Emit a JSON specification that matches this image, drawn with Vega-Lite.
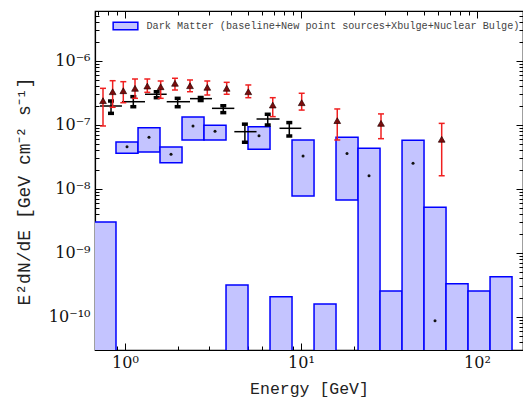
{
  "$schema": "https://vega.github.io/schema/vega-lite/v6.json",
  "width": 428,
  "height": 339,
  "autosize": {"type": "none"},
  "padding": {"left": 95, "top": 11, "right": 0, "bottom": 51},
  "background": "white",
  "config": {
    "view": {"stroke": "black", "strokeWidth": 1.2},
    "axis": {
      "grid": false,
      "domainColor": "black",
      "domainWidth": 1.2,
      "tickColor": "black",
      "tickWidth": 1,
      "labelFont": "DejaVu Serif",
      "labelFontSize": 16,
      "labelColor": "#111",
      "labelOverlap": false,
      "labelFlush": false,
      "titleFont": "Liberation Mono",
      "titleFontWeight": "normal",
      "titleColor": "#222"
    }
  },
  "datasets": {
    "dm": [
      {"lo": 0.667, "hi": 0.889, "ylo": 1e-12, "yhi": 3.05e-9, "ec": 0.770, "dot": null},
      {"lo": 0.889, "hi": 1.186, "ylo": 3.61e-8, "yhi": 5.42e-8, "ec": 1.027, "dot": 4.58e-8},
      {"lo": 1.186, "hi": 1.581, "ylo": 3.79e-8, "yhi": 9.08e-8, "ec": 1.369, "dot": 6.43e-8},
      {"lo": 1.581, "hi": 2.109, "ylo": 2.58e-8, "yhi": 4.53e-8, "ec": 1.826, "dot": 3.48e-8},
      {"lo": 2.109, "hi": 2.812, "ylo": 5.83e-8, "yhi": 1.333e-7, "ec": 2.435, "dot": 9.64e-8},
      {"lo": 2.812, "hi": 3.750, "ylo": 5.83e-8, "yhi": 9.89e-8, "ec": 3.247, "dot": 7.97e-8},
      {"lo": 3.750, "hi": 5.000, "ylo": 1e-12, "yhi": 3.16e-10, "ec": 4.330, "dot": null},
      {"lo": 5.000, "hi": 6.668, "ylo": 4.17e-8, "yhi": 9.40e-8, "ec": 5.774, "dot": 6.81e-8},
      {"lo": 6.668, "hi": 8.892, "ylo": 1e-12, "yhi": 2.07e-10, "ec": 7.700, "dot": null},
      {"lo": 8.892, "hi": 11.86, "ylo": 7.78e-9, "yhi": 5.83e-8, "ec": 10.27, "dot": 3.28e-8},
      {"lo": 11.86, "hi": 15.81, "ylo": 1e-12, "yhi": 1.60e-10, "ec": 13.69, "dot": null},
      {"lo": 15.81, "hi": 21.09, "ylo": 6.73e-9, "yhi": 6.43e-8, "ec": 18.26, "dot": 3.59e-8},
      {"lo": 21.09, "hi": 28.12, "ylo": 1e-12, "yhi": 4.33e-8, "ec": 24.35, "dot": 1.61e-8},
      {"lo": 28.12, "hi": 37.50, "ylo": 1e-12, "yhi": 2.55e-10, "ec": 32.47, "dot": null},
      {"lo": 37.50, "hi": 50.00, "ylo": 1e-12, "yhi": 5.77e-8, "ec": 43.30, "dot": 2.52e-8},
      {"lo": 50.00, "hi": 66.68, "ylo": 1e-12, "yhi": 5.18e-9, "ec": 57.74, "dot": 8.75e-11},
      {"lo": 66.68, "hi": 88.92, "ylo": 1e-12, "yhi": 3.31e-10, "ec": 77.00, "dot": null},
      {"lo": 88.92, "hi": 118.6, "ylo": 1e-12, "yhi": 2.55e-10, "ec": 102.7, "dot": null},
      {"lo": 118.6, "hi": 158.1, "ylo": 1e-12, "yhi": 4.26e-10, "ec": 136.9, "dot": null}
    ],
    "blk": [
      {"e": 0.833, "elo": 0.721, "ehi": 0.961, "f": 1.98e-7, "flo": 1.52e-7, "fhi": 2.37e-7},
      {"e": 1.115, "elo": 0.961, "ehi": 1.299, "f": 2.31e-7, "flo": 1.93e-7, "fhi": 2.77e-7},
      {"e": 1.514, "elo": 1.299, "ehi": 1.726, "f": 3.02e-7, "flo": 2.67e-7, "fhi": 3.31e-7},
      {"e": 1.992, "elo": 1.726, "ehi": 2.341, "f": 2.31e-7, "flo": 1.93e-7, "fhi": 2.61e-7},
      {"e": 2.692, "elo": 2.341, "ehi": 3.12, "f": 2.58e-7, "flo": 2.41e-7, "fhi": 2.69e-7},
      {"e": 3.618, "elo": 3.12, "ehi": 4.18, "f": 1.82e-7, "flo": 1.56e-7, "fhi": 2.00e-7},
      {"e": 4.80, "elo": 4.18, "ehi": 5.59, "f": 7.86e-8, "flo": 5.37e-8, "fhi": 1.03e-7},
      {"e": 6.47, "elo": 5.59, "ehi": 7.55, "f": 1.24e-7, "flo": 1.0e-7, "fhi": 1.47e-7},
      {"e": 8.58, "elo": 7.55, "ehi": 10.04, "f": 8.88e-8, "flo": 6.73e-8, "fhi": 1.09e-7}
    ],
    "red": [
      {"e": 0.750, "f": 2.40e-7, "flo": 9.65e-8, "fhi": 3.74e-7},
      {"e": 0.851, "f": 3.31e-7, "flo": 1.89e-7, "fhi": 4.92e-7},
      {"e": 0.978, "f": 3.43e-7, "flo": 2.23e-7, "fhi": 4.75e-7},
      {"e": 1.140, "f": 3.74e-7, "flo": 2.61e-7, "fhi": 5.23e-7},
      {"e": 1.339, "f": 4.06e-7, "flo": 3.24e-7, "fhi": 5.23e-7},
      {"e": 1.595, "f": 3.96e-7, "flo": 2.61e-7, "fhi": 4.87e-7},
      {"e": 1.923, "f": 4.48e-7, "flo": 3.52e-7, "fhi": 5.37e-7},
      {"e": 2.341, "f": 4.11e-7, "flo": 3.31e-7, "fhi": 5.05e-7},
      {"e": 2.935, "f": 3.88e-7, "flo": 2.94e-7, "fhi": 4.87e-7},
      {"e": 3.783, "f": 3.74e-7, "flo": 3.02e-7, "fhi": 4.64e-7},
      {"e": 5.02, "f": 3.31e-7, "flo": 2.67e-7, "fhi": 4.22e-7},
      {"e": 6.91, "f": 2.05e-7, "flo": 1.35e-7, "fhi": 2.67e-7},
      {"e": 10.09, "f": 2.23e-7, "flo": 1.71e-7, "fhi": 3.13e-7},
      {"e": 16.07, "f": 1.17e-7, "flo": 5.83e-8, "fhi": 1.78e-7},
      {"e": 28.48, "f": 1.06e-7, "flo": 6.11e-8, "fhi": 1.49e-7},
      {"e": 63.0, "f": 5.98e-8, "flo": 1.61e-8, "fhi": 1.06e-7}
    ]
  },
  "layer": [
    {
      "data": {"name": "dm"},
      "mark": {"type": "rect", "clip": true, "stroke": "#0000ff", "strokeWidth": 1.5},
      "encoding": {
        "x": {"field": "lo", "type": "quantitative", "scale": {"type": "log", "domain": [0.6755, 182.5]}, "axis": null},
        "x2": {"field": "hi"},
        "y": {"field": "ylo", "type": "quantitative", "scale": {"type": "log", "domain": [3.05e-11, 6.04e-6]}, "axis": null},
        "y2": {"field": "yhi"},
        "fill": {
          "datum": "Dark Matter (baseline+New point sources+Xbulge+Nuclear Bulge)",
          "scale": {"range": ["#c4c4ff"]},
          "legend": {
            "title": null,
            "orient": "none",
            "legendX": 17,
            "legendY": 1.5,
            "padding": 0,
            "symbolType": "M-1,-0.31H1V0.31H-1Z",
            "symbolSize": 610,
            "symbolStrokeColor": "#0000ff",
            "symbolStrokeWidth": 1.5,
            "labelFont": "Liberation Mono",
            "labelFontSize": 10.2,
            "labelColor": "#444",
            "labelOffset": 7.5,
            "labelLimit": 500
          }
        }
      }
    },
    {
      "data": {"name": "dm"},
      "mark": {"type": "point", "filled": true, "color": "#111", "size": 9, "opacity": 1},
      "encoding": {
        "x": {"field": "ec", "type": "quantitative", "scale": {"type": "log", "domain": [0.6755, 182.5]}, "axis": null},
        "y": {"field": "dot", "type": "quantitative", "scale": {"type": "log", "domain": [3.05e-11, 6.04e-6]}, "axis": null}
      }
    },
    {
      "data": {"name": "blk"},
      "mark": {"type": "rule", "color": "black", "strokeWidth": 1.5},
      "encoding": {
        "x": {"field": "elo", "type": "quantitative", "scale": {"type": "log", "domain": [0.6755, 182.5]}, "axis": null},
        "x2": {"field": "ehi"},
        "y": {"field": "f", "type": "quantitative", "scale": {"type": "log", "domain": [3.05e-11, 6.04e-6]}, "axis": null}
      }
    },
    {
      "data": {"name": "blk"},
      "mark": {"type": "rule", "color": "black", "strokeWidth": 1.5},
      "encoding": {
        "x": {"field": "e", "type": "quantitative", "scale": {"type": "log", "domain": [0.6755, 182.5]}, "axis": null},
        "y": {"field": "flo", "type": "quantitative", "scale": {"type": "log", "domain": [3.05e-11, 6.04e-6]}, "axis": null},
        "y2": {"field": "fhi"}
      }
    },
    {
      "data": {"name": "blk"},
      "mark": {"type": "tick", "orient": "horizontal", "color": "black", "size": 6, "thickness": 3.5, "opacity": 1},
      "encoding": {
        "x": {"field": "e", "type": "quantitative", "scale": {"type": "log", "domain": [0.6755, 182.5]}, "axis": null},
        "y": {"field": "flo", "type": "quantitative", "scale": {"type": "log", "domain": [3.05e-11, 6.04e-6]}, "axis": null}
      }
    },
    {
      "data": {"name": "blk"},
      "mark": {"type": "tick", "orient": "horizontal", "color": "black", "size": 6, "thickness": 3.5, "opacity": 1},
      "encoding": {
        "x": {"field": "e", "type": "quantitative", "scale": {"type": "log", "domain": [0.6755, 182.5]}, "axis": null},
        "y": {"field": "fhi", "type": "quantitative", "scale": {"type": "log", "domain": [3.05e-11, 6.04e-6]}, "axis": null}
      }
    },
    {
      "data": {"name": "red"},
      "mark": {"type": "rule", "color": "#f02020", "strokeWidth": 1.5},
      "encoding": {
        "x": {"field": "e", "type": "quantitative", "scale": {"type": "log", "domain": [0.6755, 182.5]}, "axis": null},
        "y": {"field": "flo", "type": "quantitative", "scale": {"type": "log", "domain": [3.05e-11, 6.04e-6]}, "axis": null},
        "y2": {"field": "fhi"}
      }
    },
    {
      "data": {"name": "red"},
      "mark": {"type": "tick", "orient": "horizontal", "color": "#f02020", "size": 6, "thickness": 1.5, "opacity": 1},
      "encoding": {
        "x": {"field": "e", "type": "quantitative", "scale": {"type": "log", "domain": [0.6755, 182.5]}, "axis": null},
        "y": {"field": "flo", "type": "quantitative", "scale": {"type": "log", "domain": [3.05e-11, 6.04e-6]}, "axis": null}
      }
    },
    {
      "data": {"name": "red"},
      "mark": {"type": "tick", "orient": "horizontal", "color": "#f02020", "size": 6, "thickness": 1.5, "opacity": 1},
      "encoding": {
        "x": {"field": "e", "type": "quantitative", "scale": {"type": "log", "domain": [0.6755, 182.5]}, "axis": null},
        "y": {"field": "fhi", "type": "quantitative", "scale": {"type": "log", "domain": [3.05e-11, 6.04e-6]}, "axis": null}
      }
    },
    {
      "data": {"name": "red"},
      "mark": {"type": "point", "shape": "triangle-up", "filled": true, "fill": "#7a0c0c", "stroke": "#2a0000", "strokeWidth": 0.7, "size": 45, "opacity": 1},
      "encoding": {
        "x": {"field": "e", "type": "quantitative", "scale": {"type": "log", "domain": [0.6755, 182.5]}, "axis": null},
        "y": {"field": "f", "type": "quantitative", "scale": {"type": "log", "domain": [3.05e-11, 6.04e-6]}, "axis": null}
      }
    },
    {
      "data": {"name": "red"},
      "mark": {"type": "point", "opacity": 0},
      "encoding": {
        "x": {"field": "e", "type": "quantitative", "scale": {"type": "log", "domain": [0.6755, 182.5]},
          "axis": {
            "orient": "bottom",
            "title": "Energy [GeV]",
            "titleFontSize": 16.5,
            "titleY": 43,
            "titleBaseline": "alphabetic",
            "values": [1, 10, 100],
            "labelExpr": "datum.value==1?'10⁰':datum.value==10?'10¹':'10²'",
            "labelPadding": 11,
            "tickSize": -7
          }},
        "y": {"field": "f", "type": "quantitative", "scale": {"type": "log", "domain": [3.05e-11, 6.04e-6]},
          "axis": {
            "orient": "left",
            "title": "E²dN/dE [GeV cm⁻² s⁻¹]",
            "titleFontSize": 18,
            "titleX": -71,
            "titleY": 180,
            "titleAngle": 270,
            "titleAlign": "center",
            "titleBaseline": "middle",
            "values": [1e-10, 1e-9, 1e-8, 1e-7, 1e-6],
            "labelExpr": "datum.value==1e-10?'10⁻¹⁰':datum.value==1e-9?'10⁻⁹':datum.value==1e-8?'10⁻⁸':datum.value==1e-7?'10⁻⁷':'10⁻⁶'",
            "labelPadding": 12,
            "labelBaseline": "middle",
            "tickSize": -7
          }}
      }
    },
    {
      "data": {"name": "red"},
      "mark": {"type": "point", "opacity": 0},
      "encoding": {
        "x": {"field": "e", "type": "quantitative", "scale": {"type": "log", "domain": [0.6755, 182.5]},
          "axis": {
            "orient": "top",
            "title": null,
            "labels": false,
            "values": [0.7, 0.8, 0.9, 1, 2, 3, 4, 5, 6, 7, 8, 9, 10, 20, 30, 40, 50, 60, 70, 80, 90, 100],
            "tickSize": {"condition": {"test": "indexof([1,10,100], datum.value) >= 0", "value": -7}, "value": -4}
          }},
        "y": {"field": "f", "type": "quantitative", "scale": {"type": "log", "domain": [3.05e-11, 6.04e-6]},
          "axis": {
            "orient": "right",
            "title": null,
            "labels": false,
            "values": [4e-11, 5e-11, 6e-11, 7e-11, 8e-11, 9e-11, 1e-10, 2e-10, 3e-10, 4e-10, 5e-10, 6e-10, 7e-10, 8e-10, 9e-10, 1e-9, 2e-9, 3e-9, 4e-9, 5e-9, 6e-9, 7e-9, 8e-9, 9e-9, 1e-8, 2e-8, 3e-8, 4e-8, 5e-8, 6e-8, 7e-8, 8e-8, 9e-8, 1e-7, 2e-7, 3e-7, 4e-7, 5e-7, 6e-7, 7e-7, 8e-7, 9e-7, 1e-6, 2e-6, 3e-6, 4e-6, 5e-6, 6e-6],
            "tickSize": {"condition": {"test": "indexof([1e-10,1e-9,1e-8,1e-7,1e-6], datum.value) >= 0", "value": -7}, "value": -4}
          }}
      }
    },
    {
      "data": {"name": "red"},
      "mark": {"type": "point", "opacity": 0},
      "encoding": {
        "x": {"field": "e", "type": "quantitative", "scale": {"type": "log", "domain": [0.6755, 182.5]},
          "axis": {
            "orient": "bottom",
            "title": null,
            "labels": false,
            "domain": false,
            "values": [0.7, 0.8, 0.9, 2, 3, 4, 5, 6, 7, 8, 9, 20, 30, 40, 50, 60, 70, 80, 90],
            "tickSize": -4
          }},
        "y": {"field": "f", "type": "quantitative", "scale": {"type": "log", "domain": [3.05e-11, 6.04e-6]},
          "axis": {
            "orient": "left",
            "title": null,
            "labels": false,
            "domain": false,
            "values": [4e-11, 5e-11, 6e-11, 7e-11, 8e-11, 9e-11, 2e-10, 3e-10, 4e-10, 5e-10, 6e-10, 7e-10, 8e-10, 9e-10, 2e-9, 3e-9, 4e-9, 5e-9, 6e-9, 7e-9, 8e-9, 9e-9, 2e-8, 3e-8, 4e-8, 5e-8, 6e-8, 7e-8, 8e-8, 9e-8, 2e-7, 3e-7, 4e-7, 5e-7, 6e-7, 7e-7, 8e-7, 9e-7, 2e-6, 3e-6, 4e-6, 5e-6, 6e-6],
            "tickSize": -4
          }}
      }
    }
  ],
  "resolve": {"axis": {"x": "independent", "y": "independent"}}
}
